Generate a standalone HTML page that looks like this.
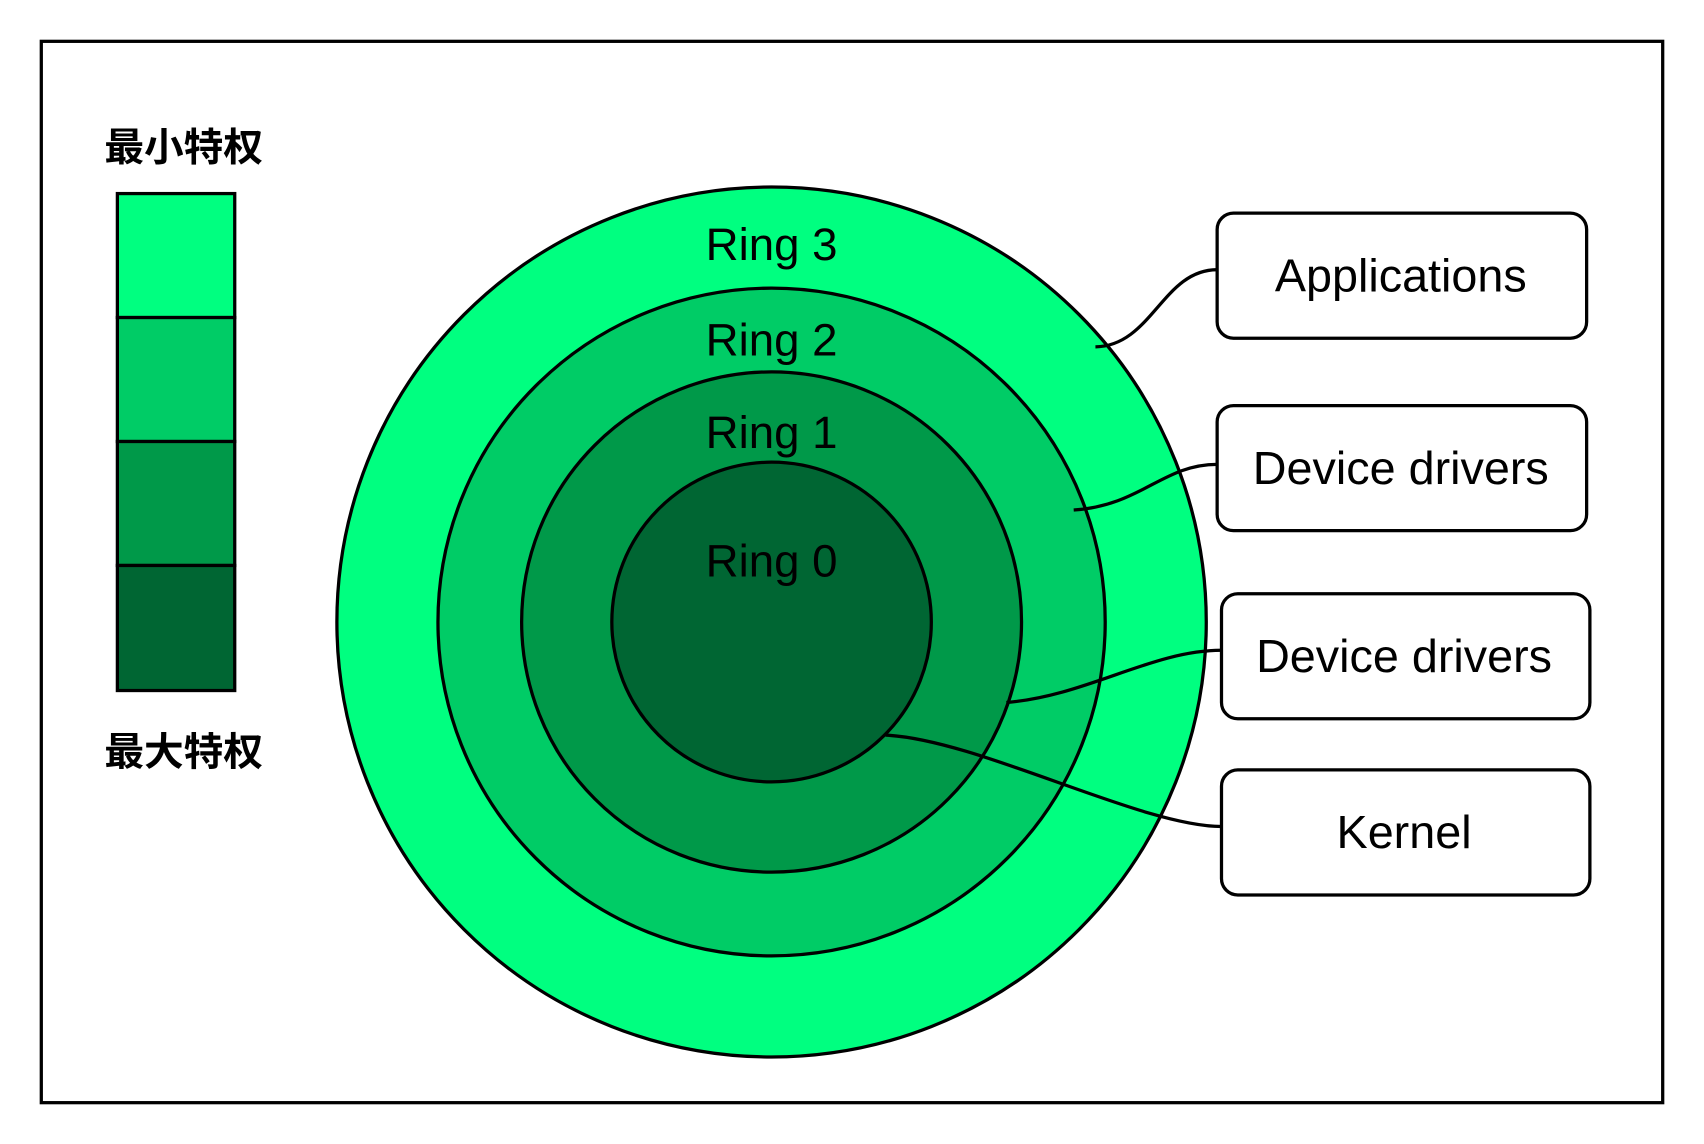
<!DOCTYPE html>
<html><head><meta charset="utf-8"><style>html,body{margin:0;padding:0;background:#fff;overflow:hidden}svg{display:block}</style></head><body>
<svg width="1704" height="1144" viewBox="0 0 1568 1052" preserveAspectRatio="none" xmlns="http://www.w3.org/2000/svg">
<rect x="0" y="0" width="1568" height="1052" fill="#fff"/>
<rect x="38" y="38" width="1492" height="976" fill="#fff" stroke="#000" stroke-width="3"/>
<g stroke="#000" stroke-width="3">
<rect x="108" y="178" width="108" height="114" fill="#00FF80"/>
<rect x="108" y="292" width="108" height="114" fill="#00CC66"/>
<rect x="108" y="406" width="108" height="114" fill="#009949"/>
<rect x="108" y="520" width="108" height="115" fill="#006633"/>
</g>
<g font-family="'Liberation Sans','Noto Sans CJK SC',sans-serif" font-weight="bold" font-size="36" fill="#000">
<text x="96" y="148" textLength="146" lengthAdjust="spacingAndGlyphs">最小特权</text>
<text x="96" y="704" textLength="146" lengthAdjust="spacingAndGlyphs">最大特权</text>
</g>
<g stroke="#000" stroke-width="3">
<circle cx="710" cy="572" r="400" fill="#00FF80"/>
<circle cx="710" cy="572" r="307" fill="#00CC66"/>
<circle cx="710" cy="572" r="230" fill="#009949"/>
<circle cx="710" cy="572" r="147" fill="#006633"/>
</g>
<g font-family="'Liberation Sans',sans-serif" font-size="42" fill="#000" text-anchor="middle">
<text x="710" y="239">Ring 3</text>
<text x="710" y="327">Ring 2</text>
<text x="710" y="412">Ring 1</text>
<text x="710" y="530">Ring 0</text>
</g>
<g fill="none" stroke="#000" stroke-width="3">
<path d="M1008 319 C1060 318, 1070 248, 1120 248"/>
<path d="M988 469 C1050 465, 1070 427, 1120 427"/>
<path d="M926 646 C1000 640, 1060 598, 1124 598"/>
<path d="M815 676 C900 680, 1050 760, 1124 760"/>
</g>
<g fill="#fff" stroke="#000" stroke-width="3">
<rect x="1120" y="196" width="340" height="115" rx="15"/>
<rect x="1120" y="373" width="340" height="115" rx="15"/>
<rect x="1124" y="546" width="339" height="115" rx="15"/>
<rect x="1124" y="708" width="339" height="115" rx="15"/>
</g>
<g font-family="'Liberation Sans',sans-serif" font-size="43" fill="#000" text-anchor="middle">
<text x="1289" y="268">Applications</text>
<text x="1289" y="445">Device drivers</text>
<text x="1292" y="618">Device drivers</text>
<text x="1292" y="780">Kernel</text>
</g>
</svg>
</body></html>
